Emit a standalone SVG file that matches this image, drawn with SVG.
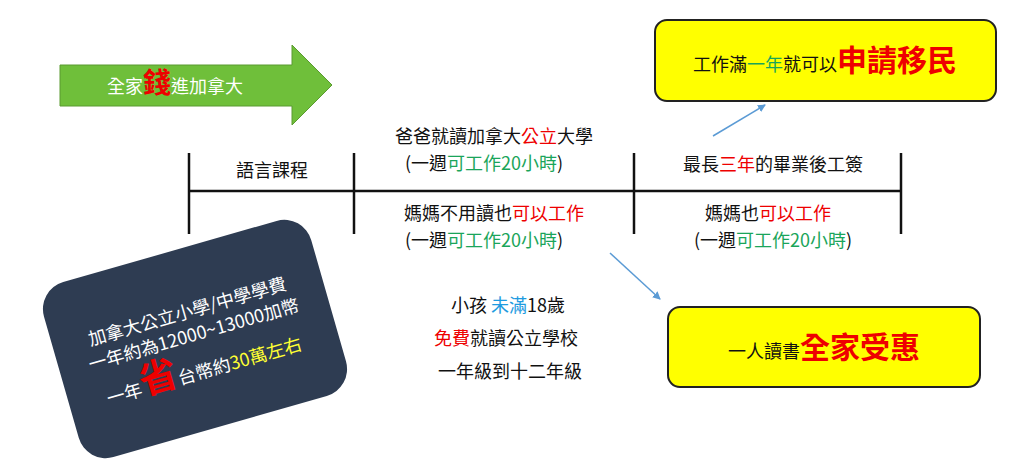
<svg xmlns="http://www.w3.org/2000/svg" width="1024" height="475" viewBox="0 0 1024 475">
<defs><marker id="ah" markerWidth="8" markerHeight="8" refX="7" refY="4" orient="auto" markerUnits="userSpaceOnUse"><path d="M0,0 L8,4 L0,8 z" fill="#5b9bd5"/></marker>
<style>text{font-family:"Noto Sans CJK TC","Noto Sans CJK SC",sans-serif;}
.t{font-size:18px;fill:#111;text-anchor:middle}.r{fill:#e00}.g{fill:#1aa55a}.b{fill:#1e9be0}.y{fill:#ffff33}
.yb{fill:#ffff00;stroke:#222;stroke-width:2}</style></defs>
<rect width="1024" height="475" fill="#fff"/>
<g id="arrow"><path d="M60,65 H292 V45 L332,85 L292,125 V106 H60 Z" fill="#6fbf3a" stroke="#5a9a30"/>
<text x="175" y="93" font-size="18" fill="#fff" text-anchor="middle">全家<tspan class="r" font-size="28" font-weight="bold">錢</tspan>進加拿大</text></g>
<g id="connectors" stroke="#111" stroke-width="2.5">
<line x1="189" y1="191" x2="901" y2="191"/>
<line x1="189" y1="153" x2="189" y2="234"/><line x1="354" y1="153" x2="354" y2="234"/>
<line x1="634" y1="153" x2="634" y2="234"/><line x1="901" y1="153" x2="901" y2="234"/>
<line x1="713" y1="136" x2="765" y2="105" stroke="#5b9bd5" stroke-width="1.5" marker-end="url(#ah)"/>
<line x1="610" y1="253" x2="660" y2="299" stroke="#5b9bd5" stroke-width="1.5" marker-end="url(#ah)"/>
</g>
<g id="labels">
<text class="t" x="272" y="177">語言課程</text>
<text class="t" x="494" y="143">爸爸就讀加拿大<tspan class="r">公立</tspan>大學</text>
<text class="t" x="484" y="170">(一週<tspan class="g">可工作20小時</tspan>)</text>
<text class="t" x="494" y="220">媽媽不用讀也<tspan class="r">可以工作</tspan></text>
<text class="t" x="484" y="247">(一週<tspan class="g">可工作20小時</tspan>)</text>
<text class="t" x="773" y="171">最長<tspan class="r">三年</tspan>的畢業後工簽</text>
<text class="t" x="768" y="220">媽媽也<tspan class="r">可以工作</tspan></text>
<text class="t" x="773" y="247">(一週<tspan class="g">可工作20小時</tspan>)</text>
<text class="t" x="508" y="312" font-size="22">小孩 <tspan class="b">未滿</tspan>18歲</text>
<text class="t" x="506" y="345" font-size="22"><tspan class="r">免費</tspan>就讀公立學校</text>
<text class="t" x="510" y="378" font-size="22">一年級到十二年級</text>
</g>
<g id="top-box"><rect class="yb" x="655" y="20" width="341" height="81" rx="12"/>
<text class="t" x="825" y="71"><tspan font-size="18">工作滿</tspan><tspan class="g" font-size="18">一年</tspan><tspan font-size="18">就可以</tspan><tspan class="r" font-size="30" font-weight="bold">申請移民</tspan></text></g>
<g id="bottom-box"><rect class="yb" x="668" y="307" width="312" height="80" rx="12"/>
<text class="t" x="824" y="358"><tspan font-size="18">一人讀書</tspan><tspan class="r" font-size="30" font-weight="bold">全家受惠</tspan></text></g>
<g id="savings" transform="translate(195,339) rotate(-16)">
<rect x="-139" y="-91" width="278" height="182" rx="28" fill="#2e3c52"/>
<text x="0" y="-22" font-size="18" fill="#fff" text-anchor="middle">加拿大公立小學/中學學費</text>
<text x="0" y="2" font-size="18" fill="#fff" text-anchor="middle">一年約為12000~13000加幣</text>
<text x="0" y="40" font-size="18" fill="#fff" text-anchor="middle">一年<tspan class="r" font-size="38" font-weight="bold">省</tspan>台幣約<tspan class="y">30萬左右</tspan></text>
</g>
</svg>
